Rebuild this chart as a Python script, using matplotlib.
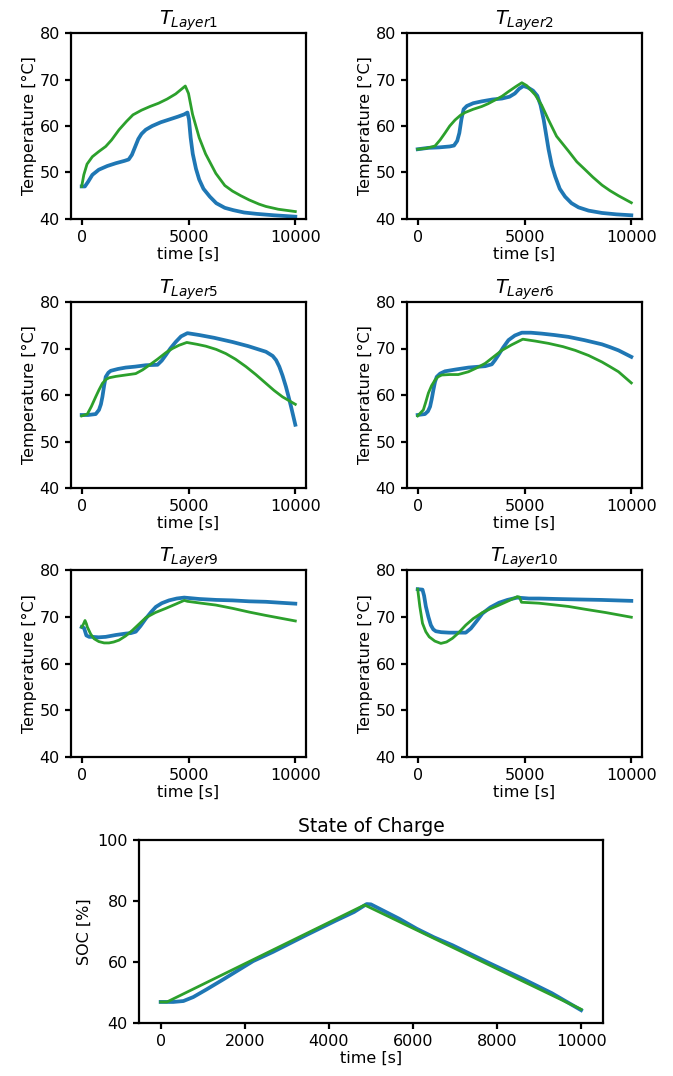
import matplotlib

matplotlib.use("Agg")
import matplotlib.pyplot as plt

# measured (blue) and simulated (green) layer temperatures, time in s
t_l1_meas = [0, 150, 300, 500, 800, 1200, 1600, 2000, 2200, 2350, 2500, 2650, 2800, 3000, 3300, 3700, 4100,
             4500, 4800, 4950, 5020, 5100, 5200, 5350, 5500, 5700, 6000, 6300, 6700, 7100, 7600, 8200, 9000, 10000]
T_l1_meas = [47.0, 47.0, 48.0, 49.5, 50.6, 51.4, 52.0, 52.5, 52.8, 53.8, 55.5, 57.2, 58.3, 59.2, 60.0, 60.8, 61.4,
             62.0, 62.5, 62.9, 61.5, 57.5, 54.0, 50.8, 48.5, 46.5, 44.8, 43.4, 42.4, 41.9, 41.4, 41.1, 40.8, 40.5]
t_l1_sim = [0, 100, 250, 500, 800, 1125, 1400, 1750, 2100, 2400, 2800, 3200, 3600, 4000, 4400, 4850, 5000, 5190,
            5500, 5800, 6280, 6700, 7060, 7450, 7840, 8300, 8625, 9200, 10000]
T_l1_sim = [47.0, 49.5, 51.8, 53.4, 54.5, 55.6, 57.0, 59.2, 61.0, 62.4, 63.4, 64.2, 64.9, 65.8, 66.9, 68.6, 67.0, 62.5,
            57.5, 54.0, 49.8, 47.2, 46.0, 45.0, 44.1, 43.2, 42.7, 42.1, 41.6]

t_l2_meas = [0, 500, 1000, 1500, 1700, 1850, 1950, 2050, 2150, 2300, 2600, 3000, 3500, 3940, 4300, 4550, 4750, 4950,
             5150, 5400, 5600, 5750, 5900, 6000, 6125, 6280, 6440, 6650, 6900, 7200, 7530, 8000, 8625, 9300, 10000]
T_l2_meas = [55.0, 55.3, 55.4, 55.6, 55.8, 56.8, 58.5, 61.5, 63.6, 64.3, 64.9, 65.3, 65.7, 65.9, 66.3, 67.0, 68.0, 68.6,
             68.3, 67.6, 66.5, 64.5, 61.3, 58.5, 55.0, 51.5, 49.1, 46.5, 44.8, 43.4, 42.5, 41.8, 41.3, 41.0, 40.8]
t_l2_sim = [0, 400, 810, 1050, 1280, 1500, 1750, 2000, 2220, 2600, 3000, 3300, 3625, 3950, 4250, 4600, 4875, 5100,
            5500, 5800, 6125, 6500, 7060, 7450, 7840, 8200, 8625, 9000, 9400, 10000]
T_l2_sim = [55.0, 55.2, 55.7, 57.0, 58.5, 60.0, 61.3, 62.3, 62.9, 63.6, 64.2, 64.8, 65.6, 66.4, 67.4, 68.5, 69.3, 68.7,
            66.7, 64.5, 61.3, 57.8, 54.6, 52.3, 50.6, 49.0, 47.3, 46.1, 45.0, 43.5]

t_l5_meas = [0, 300, 656, 810, 900, 970, 1050, 1125, 1250, 1360, 1700, 2060, 2500, 3000, 3550, 3750, 3940, 4150, 4400,
             4650, 4950, 5500, 6200, 7060, 7800, 8625, 8940, 9100, 9250, 9400, 9560, 9680, 9800, 10000]
T_l5_meas = [55.7, 55.7, 55.9, 56.8, 58.0, 59.6, 62.0, 63.9, 64.8, 65.2, 65.6, 65.9, 66.1, 66.4, 66.5, 67.4, 68.6, 70.0,
             71.4, 72.6, 73.3, 72.9, 72.3, 71.4, 70.5, 69.3, 68.4, 67.5, 66.1, 64.2, 61.8, 59.7, 57.5, 53.6]
t_l5_sim = [0, 265, 450, 656, 810, 970, 1125, 1280, 1600, 2060, 2530, 2850, 3160, 3550, 3940, 4250, 4560, 4920, 5400,
            5810, 6300, 6750, 7200, 7690, 8150, 8625, 9000, 9400, 10000]
T_l5_sim = [55.5, 55.9, 57.5, 59.6, 61.1, 62.5, 63.3, 63.7, 64.0, 64.3, 64.6, 65.4, 66.4, 67.7, 69.1, 70.0, 70.7, 71.3,
            70.9, 70.5, 69.8, 68.9, 67.7, 66.1, 64.4, 62.5, 61.0, 59.6, 58.0]

t_l6_meas = [0, 340, 480, 580, 660, 735, 810, 890, 1050, 1280, 1800, 2375, 3160, 3470, 3620, 3780, 4000, 4250, 4550,
             4875, 5300, 5810, 6400, 7060, 7800, 8625, 9000, 9400, 10000]
T_l6_meas = [55.7, 55.9, 56.5, 57.5, 59.2, 61.1, 62.8, 63.9, 64.6, 65.1, 65.5, 65.9, 66.2, 66.6, 67.5, 68.6, 70.2, 71.8,
             72.8, 73.4, 73.4, 73.2, 72.9, 72.5, 71.8, 70.9, 70.3, 69.6, 68.2]
t_l6_sim = [0, 265, 380, 500, 650, 810, 950, 1125, 1500, 1900, 2375, 2750, 3160, 3550, 3940, 4400, 4920, 5500, 6125,
            6800, 7375, 8000, 8625, 9000, 9400, 9700, 10000]
T_l6_sim = [55.5, 56.8, 58.5, 60.4, 62.0, 63.2, 63.9, 64.3, 64.4, 64.4, 65.0, 65.8, 66.8, 68.2, 69.6, 70.8, 72.0, 71.6,
            71.1, 70.4, 69.6, 68.5, 67.1, 66.1, 65.0, 63.8, 62.6]

t_l9_meas = [0, 110, 220, 350, 500, 800, 1125, 1600, 2060, 2300, 2530, 2750, 3000, 3250, 3470, 3750, 4090, 4450, 4800,
             5500, 6300, 7060, 7840, 8625, 9300, 10000]
T_l9_meas = [67.8, 67.6, 66.0, 65.7, 65.7, 65.6, 65.7, 66.1, 66.4, 66.5, 66.8, 68.0, 69.6, 71.0, 72.1, 72.9, 73.5, 73.9,
             74.1, 73.8, 73.6, 73.5, 73.3, 73.2, 73.0, 72.8]
t_l9_sim = [0, 80, 156, 220, 265, 420, 580, 800, 1050, 1280, 1500, 1750, 2060, 2375, 2700, 3000, 3450, 3940, 4400,
            4800, 4950, 5600, 6280, 7060, 7840, 8600, 9300, 10000]
T_l9_sim = [67.8, 68.4, 69.2, 68.5, 67.8, 66.3, 65.3, 64.7, 64.4, 64.4, 64.6, 65.0, 65.9, 67.1, 68.5, 69.8, 70.9, 71.8,
            72.7, 73.5, 73.3, 72.9, 72.5, 71.8, 71.0, 70.3, 69.7, 69.1]

t_l10_meas = [0, 225, 300, 383, 500, 617, 730, 850, 1100, 1470, 1900, 2250, 2490, 2750, 3030, 3400, 3810, 4200, 4660,
              5200, 5680, 6500, 7500, 8600, 10000]
T_l10_meas = [75.9, 75.8, 74.5, 72.2, 70.0, 68.2, 67.3, 66.9, 66.7, 66.6, 66.6, 66.6, 67.5, 69.0, 70.7, 72.0, 73.0,
              73.6, 74.1, 73.9, 73.9, 73.8, 73.7, 73.6, 73.4]
t_l10_sim = [0, 100, 225, 380, 540, 800, 1085, 1350, 1630, 1900, 2250, 2600, 3030, 3400, 3810, 4250, 4660, 4760, 4860,
             5680, 6280, 7060, 7840, 8800, 10000]
T_l10_sim = [75.9, 72.2, 68.6, 66.8, 65.7, 64.8, 64.3, 64.6, 65.4, 66.5, 68.2, 69.6, 70.9, 71.7, 72.5, 73.4, 74.3, 74.2,
             73.1, 72.9, 72.6, 72.2, 71.6, 70.9, 69.9]

# state of charge
t_soc_meas = [0, 300, 540, 775, 1090, 1490, 1880, 2200, 2670, 3460, 4170, 4600, 4900, 5000, 5670, 6090, 6500, 6940,
              7400, 7790, 8640, 9300, 10000]
soc_meas = [46.9, 46.9, 47.2, 48.5, 51.0, 54.3, 57.6, 60.3, 63.3, 68.8, 73.6, 76.4, 79.0, 78.9, 74.2, 70.9, 68.1, 65.5,
            62.4, 59.8, 54.3, 49.8, 44.2]
t_soc_sim = [0, 150, 4850, 10000]
soc_sim = [46.9, 46.9, 78.7, 44.5]

layer_titles = [r"$T_{Layer1}$", r"$T_{Layer2}$", r"$T_{Layer5}$", r"$T_{Layer6}$", r"$T_{Layer9}$", r"$T_{Layer10}$"]
layers = [
    (t_l1_meas, T_l1_meas, t_l1_sim, T_l1_sim),
    (t_l2_meas, T_l2_meas, t_l2_sim, T_l2_sim),
    (t_l5_meas, T_l5_meas, t_l5_sim, T_l5_sim),
    (t_l6_meas, T_l6_meas, t_l6_sim, T_l6_sim),
    (t_l9_meas, T_l9_meas, t_l9_sim, T_l9_sim),
    (t_l10_meas, T_l10_meas, t_l10_sim, T_l10_sim),
]

BLUE = "#1f77b4"
GREEN = "#2ca02c"
FS = 11.5

plt.rcParams["font.family"] = "DejaVu Sans"
plt.rcParams["mathtext.fontset"] = "dejavusans"

fig = plt.figure(figsize=(6.73, 10.76), dpi=100)


def style_axes(ax):
    for sp in ax.spines.values():
        sp.set_linewidth(1.6)
    ax.tick_params(labelsize=FS, width=1.6, length=4.5)


# axes boxes in pixels (left, top, right, bottom)
lefts = [71, 407]
rows = [(33, 219), (302, 488), (570, 757)]
for i, (tm, Tm, ts, Ts) in enumerate(layers):
    top, bot = rows[i // 2]
    left = lefts[i % 2]
    ax = fig.add_axes([left / 673, 1 - bot / 1076, 235 / 673, (bot - top) / 1076])
    ax.plot(tm, Tm, color=BLUE, linewidth=2.7)
    ax.plot(ts, Ts, color=GREEN, linewidth=2.0)
    ax.set_ylim(40, 80)
    ax.set_xlim(-500, 10500)
    ax.set_xticks([0, 5000, 10000])
    ax.set_yticks([40, 50, 60, 70, 80])
    ax.set_title(layer_titles[i], fontsize=14, pad=4)
    ax.set_xlabel("time [s]", fontsize=FS, labelpad=1)
    ax.set_ylabel("Temperature [°C]", fontsize=FS, labelpad=2)
    style_axes(ax)

ax = fig.add_axes([139 / 673, 1 - 1023 / 1076, 464 / 673, 183 / 1076])
ax.plot(t_soc_meas, soc_meas, color=BLUE, linewidth=2.7)
ax.plot(t_soc_sim, soc_sim, color=GREEN, linewidth=2.0)
ax.set_ylim(40, 100)
ax.set_xlim(-515, 10520)
ax.set_yticks([40, 60, 80, 100])
ax.set_xticks([0, 2000, 4000, 6000, 8000, 10000])
ax.set_title("State of Charge", fontsize=13.5, pad=6)
ax.set_xlabel("time [s]", fontsize=FS, labelpad=1)
ax.set_ylabel("SOC [%]", fontsize=FS, labelpad=4)
style_axes(ax)

fig.savefig("out.png", dpi=100)
